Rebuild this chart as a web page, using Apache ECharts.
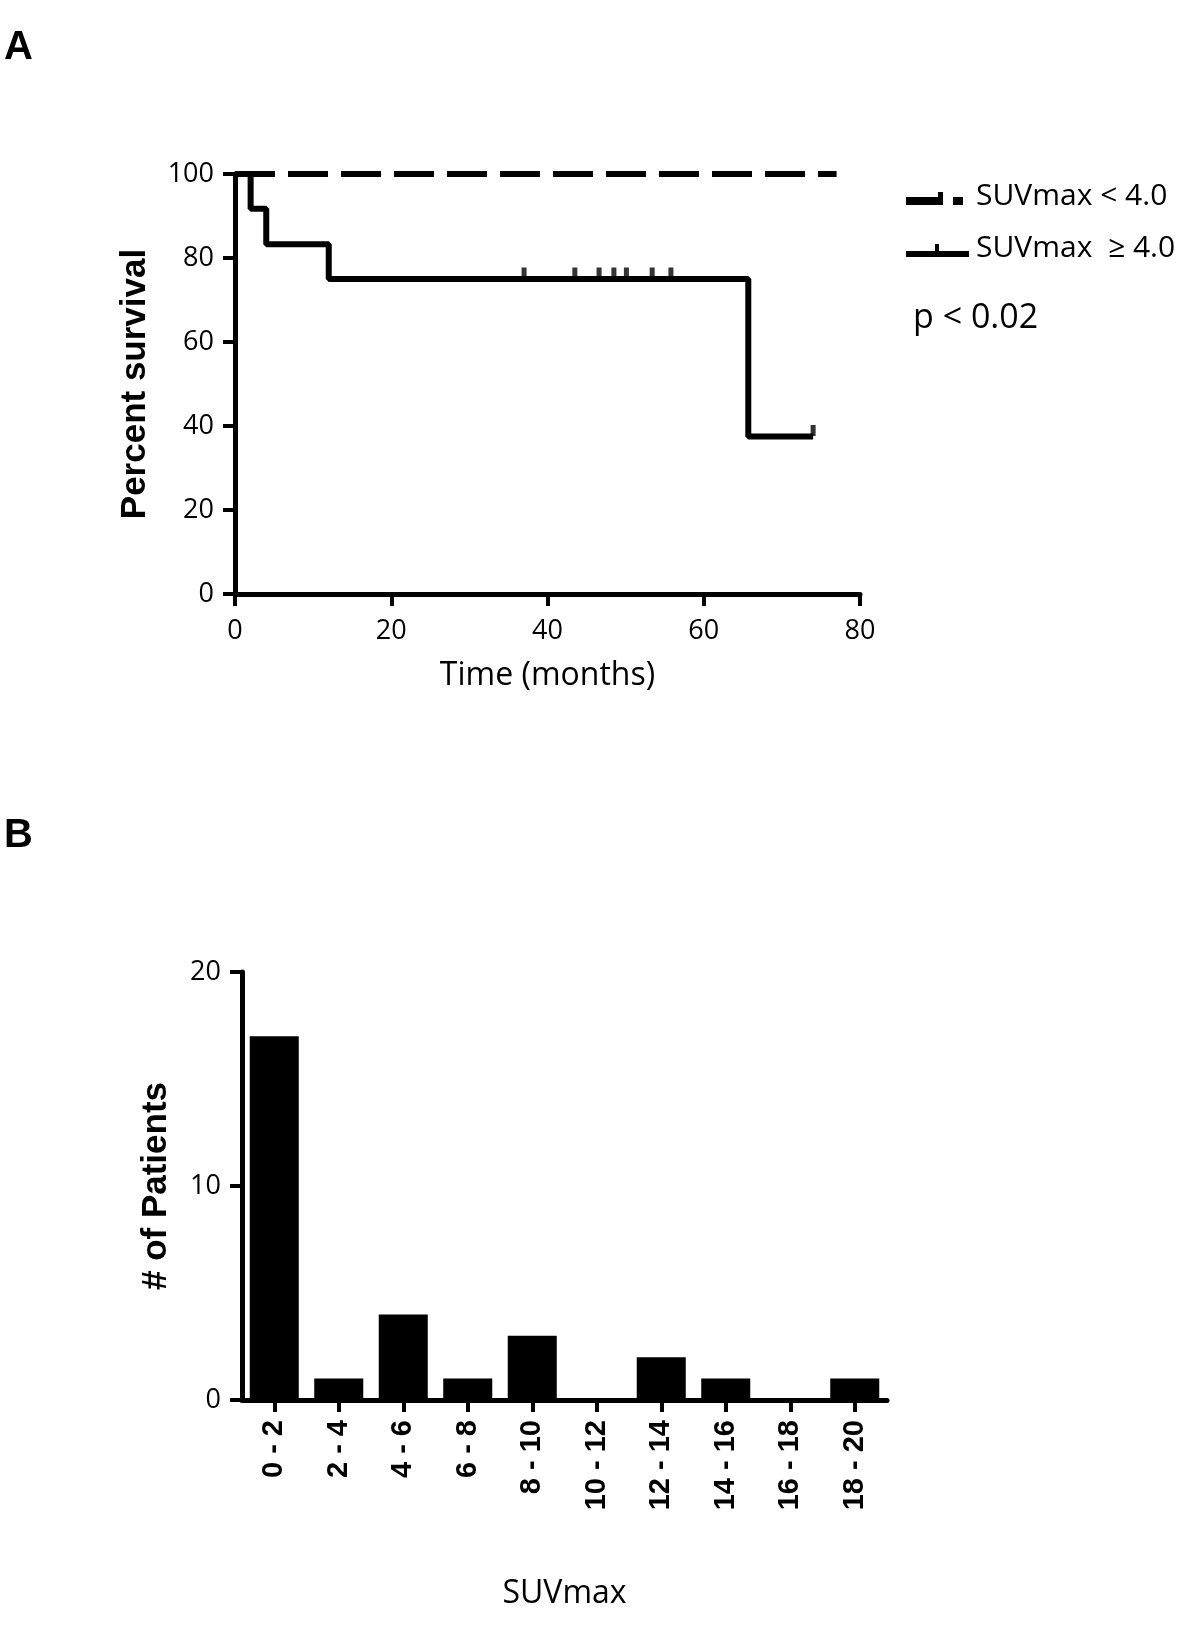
<!DOCTYPE html>
<html><head><meta charset="utf-8">
<script src="https://cdn.jsdelivr.net/npm/echarts@6/dist/echarts.min.js"></script>
<style>html,body{margin:0;padding:0;background:#fff}#c{width:1200px;height:1633px}</style>
</head><body><div id="c"></div>
<script>
// Panel A: Kaplan-Meier survival
const timeTicks = [0, 20, 40, 60, 80];
const lowSUV = [[0, 100], [77, 100]];               // SUVmax < 4.0
const lowSUVCensor = [52, 65];                        // small censor marks on dashed line
const highSUV = [[0, 100], [2, 91.7], [4, 83.3], [12, 75], [65.7, 37.5], [74, 37.5]]; // SUVmax >= 4.0
const highSUVCensor = [[37, 75], [43.5, 75], [46.6, 75], [48.5, 75], [50.1, 75], [53.4, 75], [55.8, 75], [74, 37.5]];
// Panel B: histogram
const suvBins = ['0 - 2', '2 - 4', '4 - 6', '6 - 8', '8 - 10', '10 - 12', '12 - 14', '14 - 16', '16 - 18', '18 - 20'];
const patients = [17, 1, 4, 1, 3, 0, 2, 1, 0, 1];

const chart = echarts.init(document.getElementById('c'), null, {renderer: 'canvas'});
const tickFont = {fontFamily: 'Open Sans', fontSize: 27, color: '#000'};
const axisLine = {show: true, lineStyle: {color: '#000', width: 5}};
const axisTick = {show: true, length: 12, lineStyle: {color: '#000', width: 4}};

chart.setOption({
  animation: false,
  backgroundColor: '#fff',
  grid: [
    {left: 235, top: 174, width: 625, height: 420},
    {left: 242, top: 972, width: 645, height: 428}
  ],
  xAxis: [
    {gridIndex: 0, type: 'value', min: 0, max: 80, interval: 20,
     axisLine, axisTick, splitLine: {show: false},
     axisLabel: Object.assign({margin: 24}, tickFont),
     name: 'Time (months)', nameLocation: 'middle', nameGap: 66,
     nameTextStyle: {fontFamily: 'Open Sans', fontSize: 32, color: '#000'}},
    {gridIndex: 1, type: 'category', data: suvBins,
     axisLine, axisTick: {show: true, length: 12, alignWithLabel: true, lineStyle: {color: '#000', width: 4}},
     axisLabel: {rotate: 90, margin: 20, fontFamily: 'Liberation Sans', fontWeight: 'bold', fontSize: 29, color: '#000'},
     name: 'SUVmax', nameLocation: 'middle', nameGap: 178,
     nameTextStyle: {fontFamily: 'Open Sans', fontSize: 32, color: '#000'}}
  ],
  yAxis: [
    {gridIndex: 0, type: 'value', min: 0, max: 100, interval: 20,
     axisLine, axisTick, splitLine: {show: false},
     axisLabel: Object.assign({margin: 21}, tickFont),
     name: 'Percent survival', nameLocation: 'middle', nameGap: 82,
     nameTextStyle: {fontFamily: 'Liberation Sans', fontWeight: 'bold', fontSize: 35, color: '#000'}},
    {gridIndex: 1, type: 'value', min: 0, max: 20, interval: 10,
     axisLine, axisTick, splitLine: {show: false},
     axisLabel: Object.assign({margin: 21}, tickFont),
     name: '# of Patients', nameLocation: 'middle', nameGap: 68,
     nameTextStyle: {fontFamily: 'Liberation Sans', fontWeight: 'bold', fontSize: 35, color: '#000'}}
  ],
  series: [
    {type: 'line', xAxisIndex: 0, yAxisIndex: 0, data: lowSUV, symbol: 'none',
     lineStyle: {color: '#000', width: 6, type: [40, 13]}, z: 2},
    {type: 'scatter', xAxisIndex: 0, yAxisIndex: 0, data: lowSUVCensor.map(t => [t, 100]),
     symbol: 'rect', symbolSize: [4, 6], itemStyle: {color: '#000'}, z: 3},
    {type: 'line', xAxisIndex: 0, yAxisIndex: 0, data: highSUV, step: 'end', symbol: 'none',
     lineStyle: {color: '#000', width: 6}, z: 4},
    {type: 'scatter', xAxisIndex: 0, yAxisIndex: 0, data: highSUVCensor,
     symbol: 'rect', symbolSize: [5, 11], symbolOffset: [0, -6], itemStyle: {color: '#000'}, z: 5},
    {type: 'bar', xAxisIndex: 1, yAxisIndex: 1, data: patients, barWidth: '76%',
     itemStyle: {color: '#000'}}
  ],
  graphic: [
    {type: 'text', left: 4, top: 28, style: {text: 'A', fontFamily: 'Liberation Sans', fontWeight: 'bold', fontSize: 40, fill: '#000'}},
    {type: 'text', left: 4, top: 816, style: {text: 'B', fontFamily: 'Liberation Sans', fontWeight: 'bold', fontSize: 40, fill: '#000'}},
    // legend symbols
    {type: 'rect', shape: {x: 906, y: 197, width: 37, height: 8}, style: {fill: '#000'}},
    {type: 'rect', shape: {x: 938, y: 192, width: 5, height: 8}, style: {fill: '#000'}},
    {type: 'rect', shape: {x: 953, y: 197, width: 10, height: 8}, style: {fill: '#000'}},
    {type: 'rect', shape: {x: 906, y: 251, width: 63, height: 6}, style: {fill: '#000'}},
    {type: 'rect', shape: {x: 935, y: 244, width: 4, height: 8}, style: {fill: '#000'}},
    {type: 'text', left: 976, top: 181, style: {text: 'SUVmax < 4.0', fontFamily: 'Open Sans', fontSize: 30, fill: '#000'}},
    {type: 'text', left: 976, top: 233, style: {text: 'SUVmax  \u2265 4.0', fontFamily: 'Open Sans', fontSize: 30, fill: '#000'}},
    {type: 'text', left: 913, top: 301, style: {text: 'p < 0.02', fontFamily: 'Open Sans', fontSize: 34, fill: '#000'}}
  ]
});
</script></body></html>
